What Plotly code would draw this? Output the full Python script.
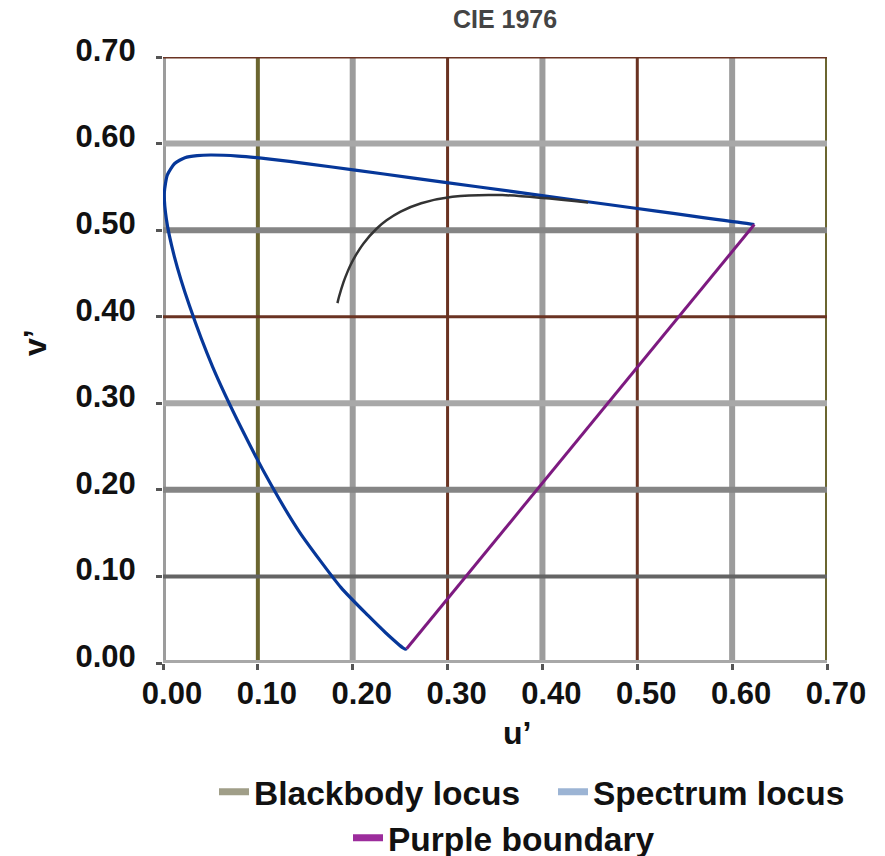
import plotly.graph_objects as go

# ---------------- data ----------------
# Spectrum locus (CIE 1976 u', v'), wavelengths in nm
wavelengths = [380, 400, 420, 440, 450, 460, 470, 475, 480, 485, 490, 495, 500, 505,
               510, 515, 520, 525, 530, 540, 550, 560, 570, 580, 590, 600, 610, 620,
               630, 640, 650, 660, 680, 700]
spectrum_u = [0.2568, 0.2558, 0.2536, 0.2347, 0.2161, 0.1877, 0.1441, 0.1147, 0.0828,
              0.0521, 0.0282, 0.0119, 0.0035, 0.0014, 0.0046, 0.0123, 0.0231, 0.0360,
              0.0501, 0.0792, 0.1127, 0.1531, 0.2026, 0.2623, 0.3315, 0.4035, 0.4692,
              0.5203, 0.5565, 0.5830, 0.6005, 0.6109, 0.6199, 0.6234]
spectrum_v = [0.0165, 0.0159, 0.0170, 0.0350, 0.0549, 0.0871, 0.1510, 0.2044, 0.2708,
              0.3427, 0.4117, 0.4698, 0.5131, 0.5432, 0.5638, 0.5770, 0.5837, 0.5861,
              0.5868, 0.5856, 0.5821, 0.5766, 0.5694, 0.5604, 0.5501, 0.5393, 0.5296,
              0.5219, 0.5165, 0.5125, 0.5099, 0.5084, 0.5070, 0.5065]

# Blackbody (Planckian) locus, temperatures in K
temperatures = [20000, 15000, 10000, 8000, 7000, 6000, 5000, 4000, 3500, 3000, 2500, 2000, 1500, 1000]
blackbody_u = [0.1839, 0.1857, 0.1903, 0.1946, 0.1981, 0.2033, 0.2114, 0.2251, 0.2357,
               0.2505, 0.2722, 0.3051, 0.3579, 0.4481]
blackbody_v = [0.4157, 0.4236, 0.4400, 0.4521, 0.4606, 0.4712, 0.4847, 0.5016, 0.5113,
               0.5214, 0.5311, 0.5386, 0.5405, 0.5319]

# Purple boundary (line of purples)
purple_u = [0.2568, 0.6234]
purple_v = [0.0165, 0.5065]

# Axis ticks
tick_vals = [0.0, 0.1, 0.2, 0.3, 0.4, 0.5, 0.6, 0.7]
tick_text = ["0.00", "0.10", "0.20", "0.30", "0.40", "0.50", "0.60", "0.70"]

# Gridline styling (per tick)
vgrid_colors = ["#9c9c9c", "#6b6630", "#9c9c9c", "#6a3322", "#9c9c9c", "#6a3322", "#9c9c9c", "#6b6630"]
vgrid_widths = [6, 4, 6, 3, 6, 3, 6, 4]
hgrid_colors = ["#a8a8a8", "#646464", "#858585", "#a8a8a8", "#6a3322", "#858585", "#a8a8a8", "#6a3322"]
hgrid_widths = [6, 4, 6, 6, 3, 6, 6, 3]

FONT = "Liberation Sans, Arial, Helvetica, sans-serif"

fig = go.Figure()

# Actual curves (legend handled by swatch entries below)
fig.add_trace(go.Scatter(x=spectrum_u, y=spectrum_v, mode="lines",
                         line=dict(color="#063799", width=3.2, shape="spline", smoothing=0.6),
                         showlegend=False, hoverinfo="skip"))
fig.add_trace(go.Scatter(x=blackbody_u, y=blackbody_v, mode="lines",
                         line=dict(color="#333333", width=2.5, shape="spline", smoothing=0.8),
                         showlegend=False, hoverinfo="skip"))
fig.add_trace(go.Scatter(x=purple_u, y=purple_v, mode="lines",
                         line=dict(color="#7d1a80", width=3),
                         showlegend=False, hoverinfo="skip"))

# Legend entries
fig.add_trace(go.Scatter(x=[None], y=[None], mode="lines", name="Blackbody locus",
                         line=dict(color="#a09e88", width=7), legend="legend"))
fig.add_trace(go.Scatter(x=[None], y=[None], mode="lines", name="Spectrum locus",
                         line=dict(color="#9cb4d4", width=7), legend="legend3"))
fig.add_trace(go.Scatter(x=[None], y=[None], mode="lines", name="Purple boundary",
                         line=dict(color="#9c2c9c", width=7), legend="legend2"))

shapes = []
for val, col, w in zip(tick_vals, vgrid_colors, vgrid_widths):
    shapes.append(dict(type="line", xref="x", yref="paper", x0=val, x1=val, y0=0, y1=1,
                       line=dict(color=col, width=w), layer="below"))
for val, col, w in zip(tick_vals, hgrid_colors, hgrid_widths):
    shapes.append(dict(type="line", xref="paper", yref="y", x0=0, x1=1, y0=val, y1=val,
                       line=dict(color=col, width=w), layer="below"))

W, H = 885, 856
OFF = 8  # page body margin
# plot area in page pixels: left 163, right 827, top 57, bottom 663
L = 163 - OFF
T = 57 - OFF
R = W - (827 - OFF)
B = H - (663 - OFF)
PW = W - L - R
PH = H - T - B


def cx(px):
    return (px - OFF) / W


def cy(py):
    return 1 - (py - OFF) / H


def px_(px):
    return (px - OFF - L) / PW


def py_(py):
    return ((H - B) - (py - OFF)) / PH


axis_common = dict(
    range=[0, 0.7], tickvals=tick_vals, ticktext=tick_text, showgrid=False,
    zeroline=False, showline=False, ticks="outside", ticklen=6, tickwidth=3,
    tickcolor="#555555", automargin=False,
    tickfont=dict(family=FONT, size=31, color="#111111", weight="bold"),
)

legend_font = dict(family=FONT, size=33.5, color="#111111", weight="bold")
legend_common = dict(orientation="h", xref="container", yref="container",
                     xanchor="left", yanchor="middle", font=legend_font,
                     itemwidth=30, bgcolor="rgba(0,0,0,0)")

fig.update_layout(
    width=W, height=H,
    margin=dict(l=L, r=R, t=T, b=B, autoexpand=False),
    paper_bgcolor="white", plot_bgcolor="white",
    shapes=shapes,
    title=dict(text="CIE 1976", x=cx(505), xanchor="center", xref="container",
               y=cy(19), yanchor="middle", yref="container",
               font=dict(family=FONT, size=25, color="#444444", weight="bold")),
    xaxis=dict(**axis_common, ticklabelshift=9, ticklabelstandoff=-3),
    yaxis=dict(**axis_common, ticklabelshift=-7, ticklabelstandoff=14),
    legend=dict(**legend_common, x=cx(214), y=cy(792)),
    legend3=dict(**legend_common, x=cx(553), y=cy(792)),
    legend2=dict(**legend_common, x=cx(348), y=cy(838)),
    annotations=[
        dict(text="u’", xref="paper", yref="paper", x=px_(517), y=py_(733),
             showarrow=False, xanchor="center", yanchor="middle",
             font=dict(family=FONT, size=32, color="#111111", weight="bold")),
        dict(text="v’", xref="paper", yref="paper", x=px_(35), y=py_(343),
             showarrow=False, xanchor="center", yanchor="middle", textangle=-90,
             font=dict(family=FONT, size=32, color="#111111", weight="bold")),
    ],
)

fig.write_html("out.html")
